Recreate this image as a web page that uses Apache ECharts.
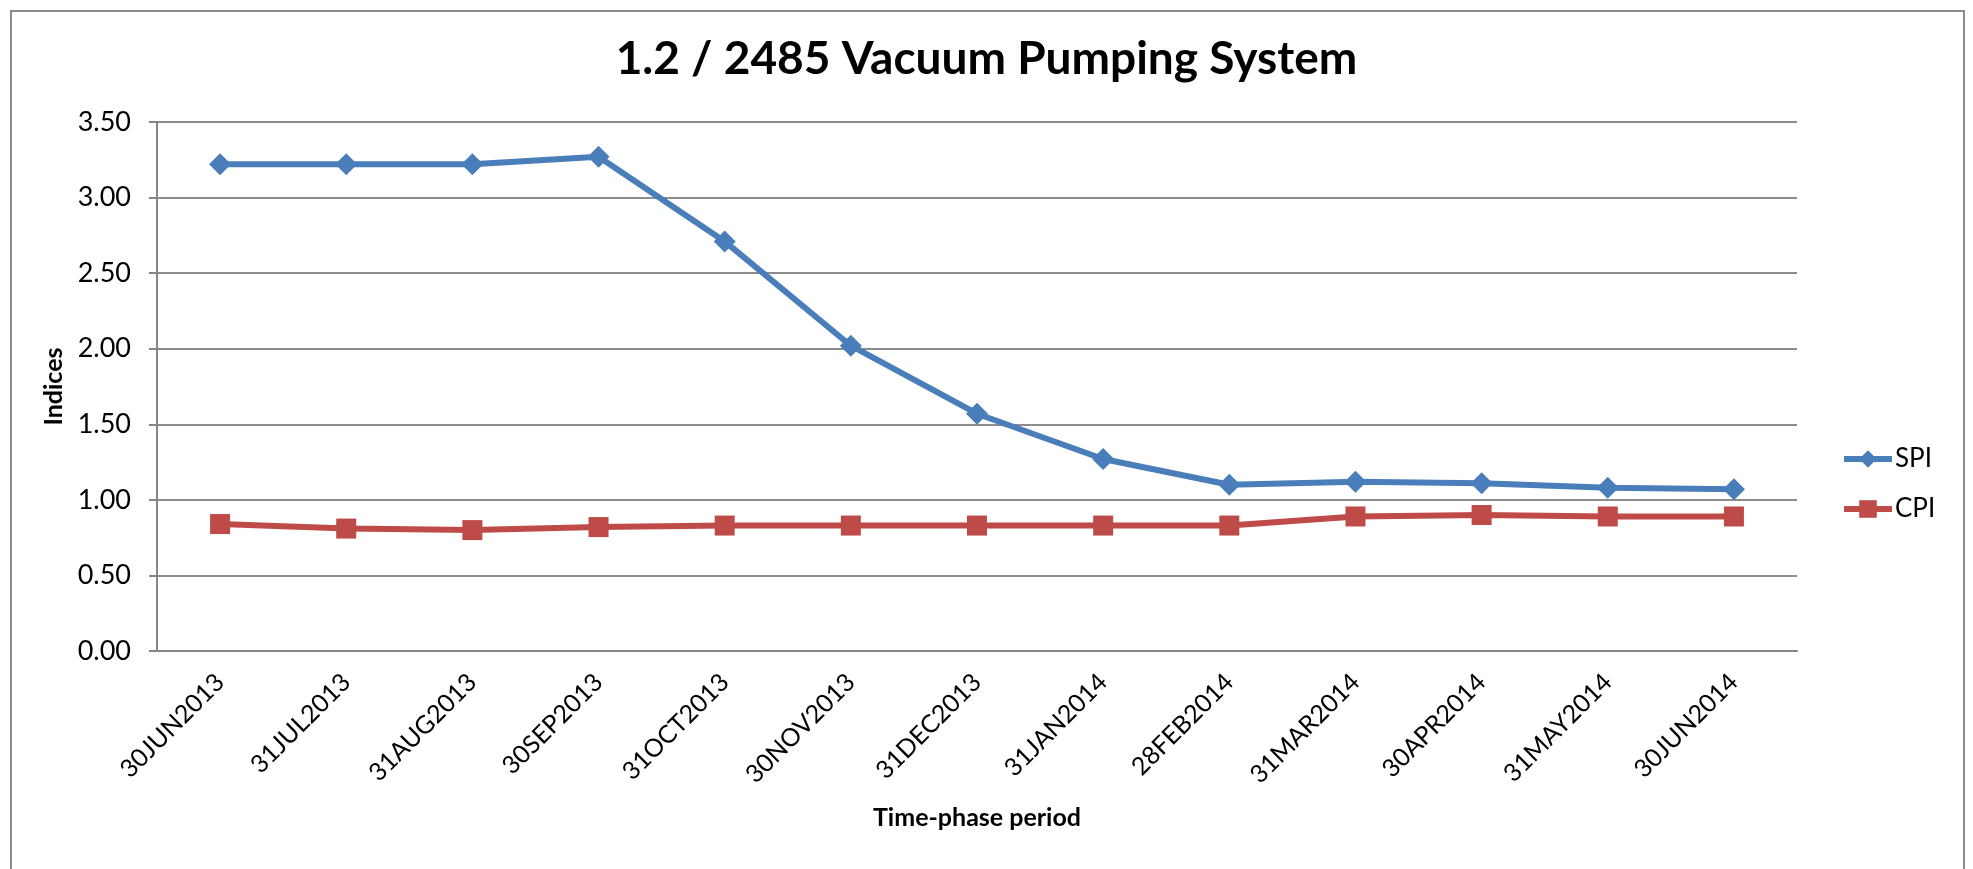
<!DOCTYPE html>
<html>
<head>
<meta charset="utf-8">
<script src="https://cdn.jsdelivr.net/npm/echarts@6/dist/echarts.min.js"></script>
<style>
  html, body { margin: 0; padding: 0; background: #fff; }
  #chart { width: 1973px; height: 869px; }
</style>
</head>
<body>
<div id="chart"></div>
<script>
const categories = ["30JUN2013", "31JUL2013", "31AUG2013", "30SEP2013", "31OCT2013", "30NOV2013",
  "31DEC2013", "31JAN2014", "28FEB2014", "31MAR2014", "30APR2014", "31MAY2014", "30JUN2014"];
const spi = [3.22, 3.22, 3.22, 3.27, 2.71, 2.02, 1.57, 1.27, 1.10, 1.12, 1.11, 1.08, 1.07];
const cpi = [0.84, 0.81, 0.80, 0.82, 0.83, 0.83, 0.83, 0.83, 0.83, 0.89, 0.90, 0.89, 0.89];

const font = "Lato";

let option = {
  animation: false,
  textStyle: { fontFamily: font, color: "#000" },
  title: {
    text: "1.2 / 2485 Vacuum Pumping System",
    left: "center",
    top: 31,
    textStyle: { fontSize: 46, fontWeight: "bold", fontFamily: font, color: "#000" }
  },
  graphic: [
    {
      // outer chart border
      type: "rect",
      shape: { x: 11, y: 11, width: 1953, height: 880 },
      style: { fill: "none", stroke: "#8c8c8c", lineWidth: 2 }
    }
  ],
  legend: {
    orient: "vertical",
    left: 1836,
    top: 441,
    itemGap: 24,
    itemWidth: 48,
    itemHeight: 22,
    lineStyle: { width: 6 },
    textStyle: { fontSize: 26, fontFamily: font, color: "#000", padding: [0, 0, 0, -2] },
    data: ["SPI", "CPI"]
  },
  grid: { left: 157, right: 176, top: 122, bottom: 218 },
  xAxis: {
    type: "category",
    data: categories,
    boundaryGap: true,
    name: "Time-phase period",
    nameLocation: "middle",
    nameGap: 154,
    nameTextStyle: { fontSize: 25, fontWeight: "bold", fontFamily: font, color: "#000" },
    axisLine: { lineStyle: { color: "#868686", width: 2 } },
    axisTick: { inside: true, length: 9, lineStyle: { color: "#868686", width: 2 } },
    axisLabel: { rotate: 45, fontSize: 25, margin: 27, color: "#000", fontFamily: font }
  },
  yAxis: {
    type: "value",
    min: 0,
    max: 3.5,
    interval: 0.5,
    name: "Indices",
    nameLocation: "middle",
    nameGap: 90,
    nameTextStyle: { fontSize: 25, fontWeight: "bold", fontFamily: font, color: "#000" },
    axisLine: { show: true, lineStyle: { color: "#868686", width: 2 } },
    axisTick: { show: true, length: 8, lineStyle: { color: "#868686", width: 2 } },
    axisLabel: {
      fontSize: 27,
      margin: 26,
      color: "#000",
      fontFamily: font,
      formatter: v => v.toFixed(2)
    },
    splitLine: { lineStyle: { color: "#8c8c8c", width: 2 } }
  },
  series: [
    {
      name: "SPI",
      type: "line",
      data: spi,
      symbol: "diamond",
      symbolSize: 22,
      color: "#4a7ebb",
      lineStyle: { width: 6, color: "#4a7ebb" },
      itemStyle: { color: "#4a7ebb" }
    },
    {
      name: "CPI",
      type: "line",
      data: cpi,
      symbol: "rect",
      symbolSize: 20,
      color: "#be4b48",
      lineStyle: { width: 6, color: "#be4b48" },
      itemStyle: { color: "#be4b48" }
    }
  ]
};

let myChart = echarts.init(document.getElementById("chart"));
myChart.setOption(option);
</script>
</body>
</html>
